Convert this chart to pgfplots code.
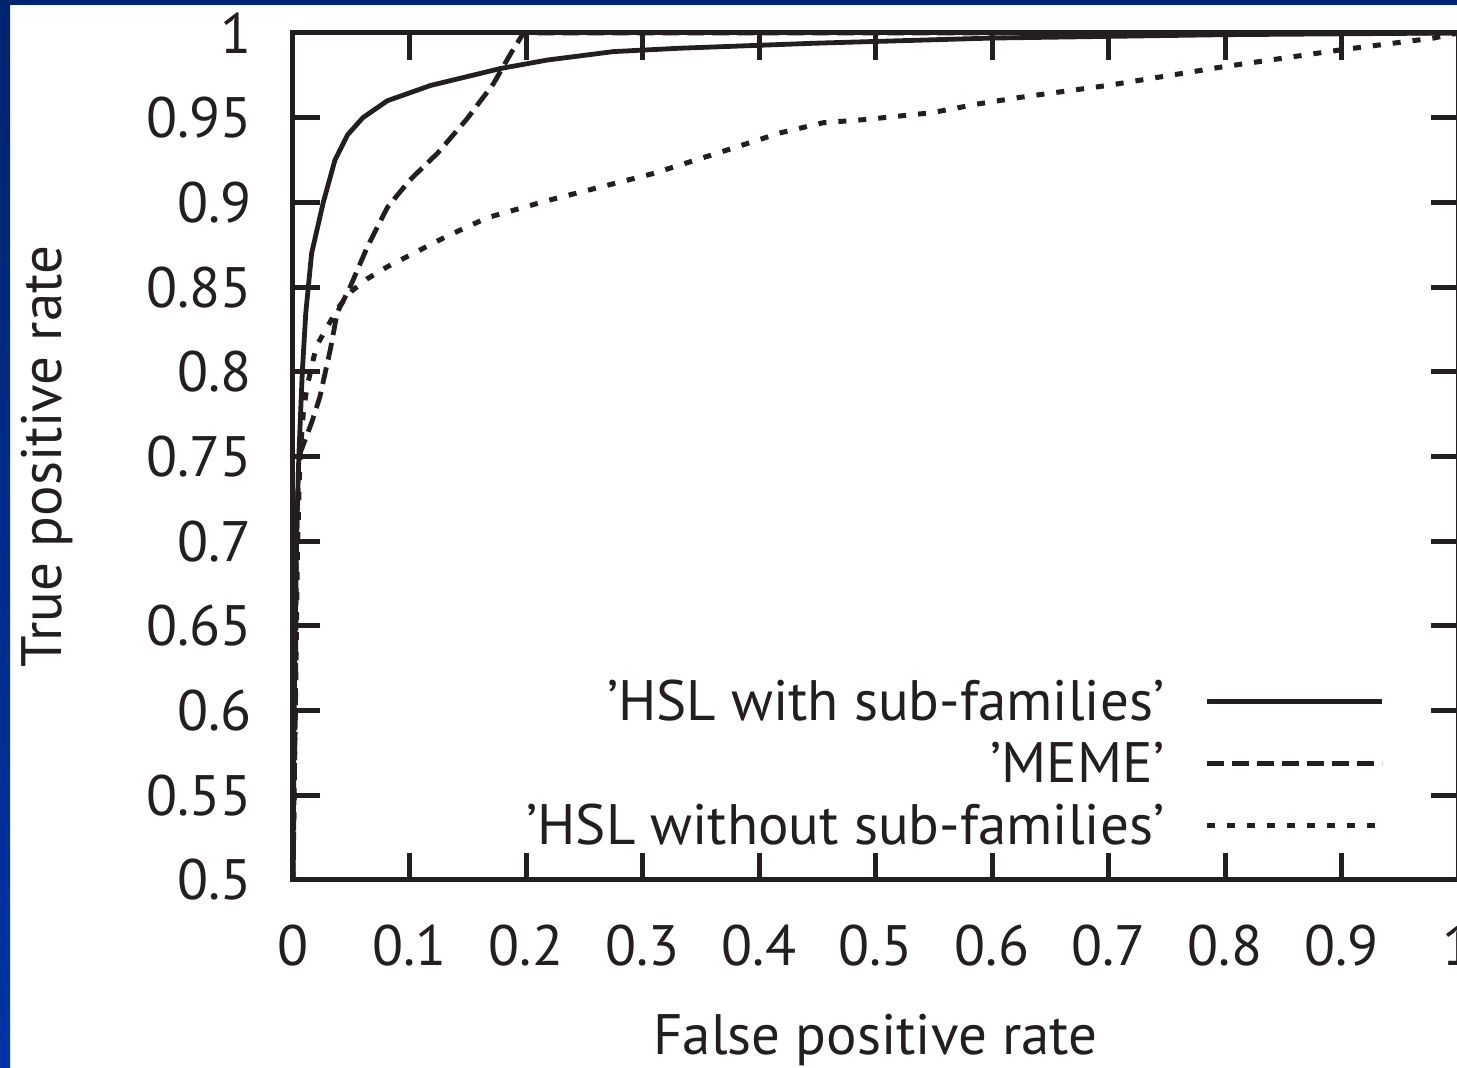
\documentclass[border=0pt]{standalone}
\usepackage{pgfplots}
\pgfplotsset{compat=1.18}
\usepackage{fontspec}
\setmainfont{PT Sans}
\definecolor{ink}{RGB}{35,31,32}
\definecolor{navy}{RGB}{0,36,110}
\definecolor{slideblue}{RGB}{0,52,165}
\pgfplotstableread{
x y
0 0.5
0.001 0.6
0.003 0.7
0.005 0.75
0.008 0.8
0.011 0.835
0.016 0.87
0.026 0.90
0.036 0.925
0.047 0.94
0.060 0.950
0.081 0.960
0.118 0.969
0.178 0.979
0.218 0.984
0.275 0.989
0.332 0.991
0.45 0.994
0.6 0.997
0.8 0.999
1 1
}\hslsub
\pgfplotstableread{
x y
0 0.5
0.002 0.6
0.003 0.7
0.005 0.75
0.016 0.770
0.023 0.785
0.032 0.813
0.038 0.835
0.049 0.850
0.064 0.874
0.081 0.897
0.100 0.913
0.124 0.929
0.149 0.949
0.172 0.970
0.187 0.988
0.197 0.999
0.2 1
1 1
}\meme
\pgfplotstableread{
x y
0 0.5
0.002 0.6
0.004 0.7
0.006 0.75
0.009 0.777
0.012 0.791
0.016 0.803
0.020 0.815
0.029 0.826
0.039 0.838
0.051 0.848
0.064 0.855
0.081 0.862
0.098 0.868
0.132 0.880
0.167 0.891
0.218 0.901
0.275 0.911
0.309 0.917
0.364 0.929
0.418 0.941
0.455 0.947
0.493 0.949
0.549 0.953
0.587 0.958
0.624 0.962
0.699 0.969
0.798 0.980
0.899 0.990
0.979 0.997
1 1
}\hslnosub
\begin{document}
\begin{tikzpicture}
\useasboundingbox (0,0) rectangle (728.5pt,534pt);
\clip (0,0) rectangle (728.5pt,534pt);
\fill[white] (0,0) rectangle (728.5pt,534pt);
\shade[top color=navy, bottom color=slideblue] (0,0) rectangle (5pt,534pt);
\fill[navy] (0,531.5pt) rectangle (728.5pt,534pt);
\begin{axis}[
  at={(146.5pt,94pt)}, anchor=south west,
  scale only axis, width=582.5pt, height=423.5pt,
  xmin=0, xmax=1, ymin=0.5, ymax=1,
  xtick={0,0.1,0.2,0.3,0.4,0.5,0.6,0.7,0.8,0.9,1},
  ytick={0.5,0.55,0.6,0.65,0.7,0.75,0.8,0.85,0.9,0.95,1},
  tick align=inside,
  major tick length=13.5pt,
  tick style={line width=2.5pt, ink},
  axis line style={line width=2.5pt, ink},
  clip=false,
  /pgf/number format/assume math mode=true,
  ticklabel style={font=\fontsize{28.5}{34}\selectfont, text=ink},
  yticklabel style={anchor=east, inner sep=0pt, xshift=-20.5pt},
  xticklabel style={anchor=north, inner sep=0pt, yshift=-22.5pt},
  xlabel={False positive rate},
  ylabel={True positive rate},
  every axis x label/.style={at={(rel axis cs:0.5,0)}, yshift=-80pt, anchor=center, font=\fontsize{28.5}{34}\selectfont, text=ink},
  every axis y label/.style={at={(rel axis cs:0,0.5)}, xshift=-123pt, rotate=90, anchor=center, font=\fontsize{28.5}{34}\selectfont, text=ink},
  legend style={draw=none, fill=none, at={(rel axis cs:0.937,0.139)}, anchor=east,
    font=\fontsize{28.5}{34}\selectfont, text=ink, inner sep=0pt,
    nodes={inner sep=0pt, text height=20pt, text depth=0pt},
    column sep=20pt, row sep=11pt},
  legend cell align=right,
  legend plot pos=right,
  legend image code/.code={\draw[#1] (0pt,-0.5pt) -- (87.5pt,-0.5pt);},
]
\addplot[ink, line width=2.4pt, line join=round] table[x=x,y=y] {\hslsub};
\addlegendentry{'HSL with sub-families'}
\addplot[ink, line width=2.4pt, dash pattern=on 8.5pt off 4pt] table[x=x,y=y] {\meme};
\addlegendentry{'MEME'}
\addplot[ink, line width=2.5pt, dash pattern=on 4pt off 6pt] table[x=x,y=y] {\hslnosub};
\addlegendentry{'HSL without sub-families'}
\end{axis}
\end{tikzpicture}
\end{document}
